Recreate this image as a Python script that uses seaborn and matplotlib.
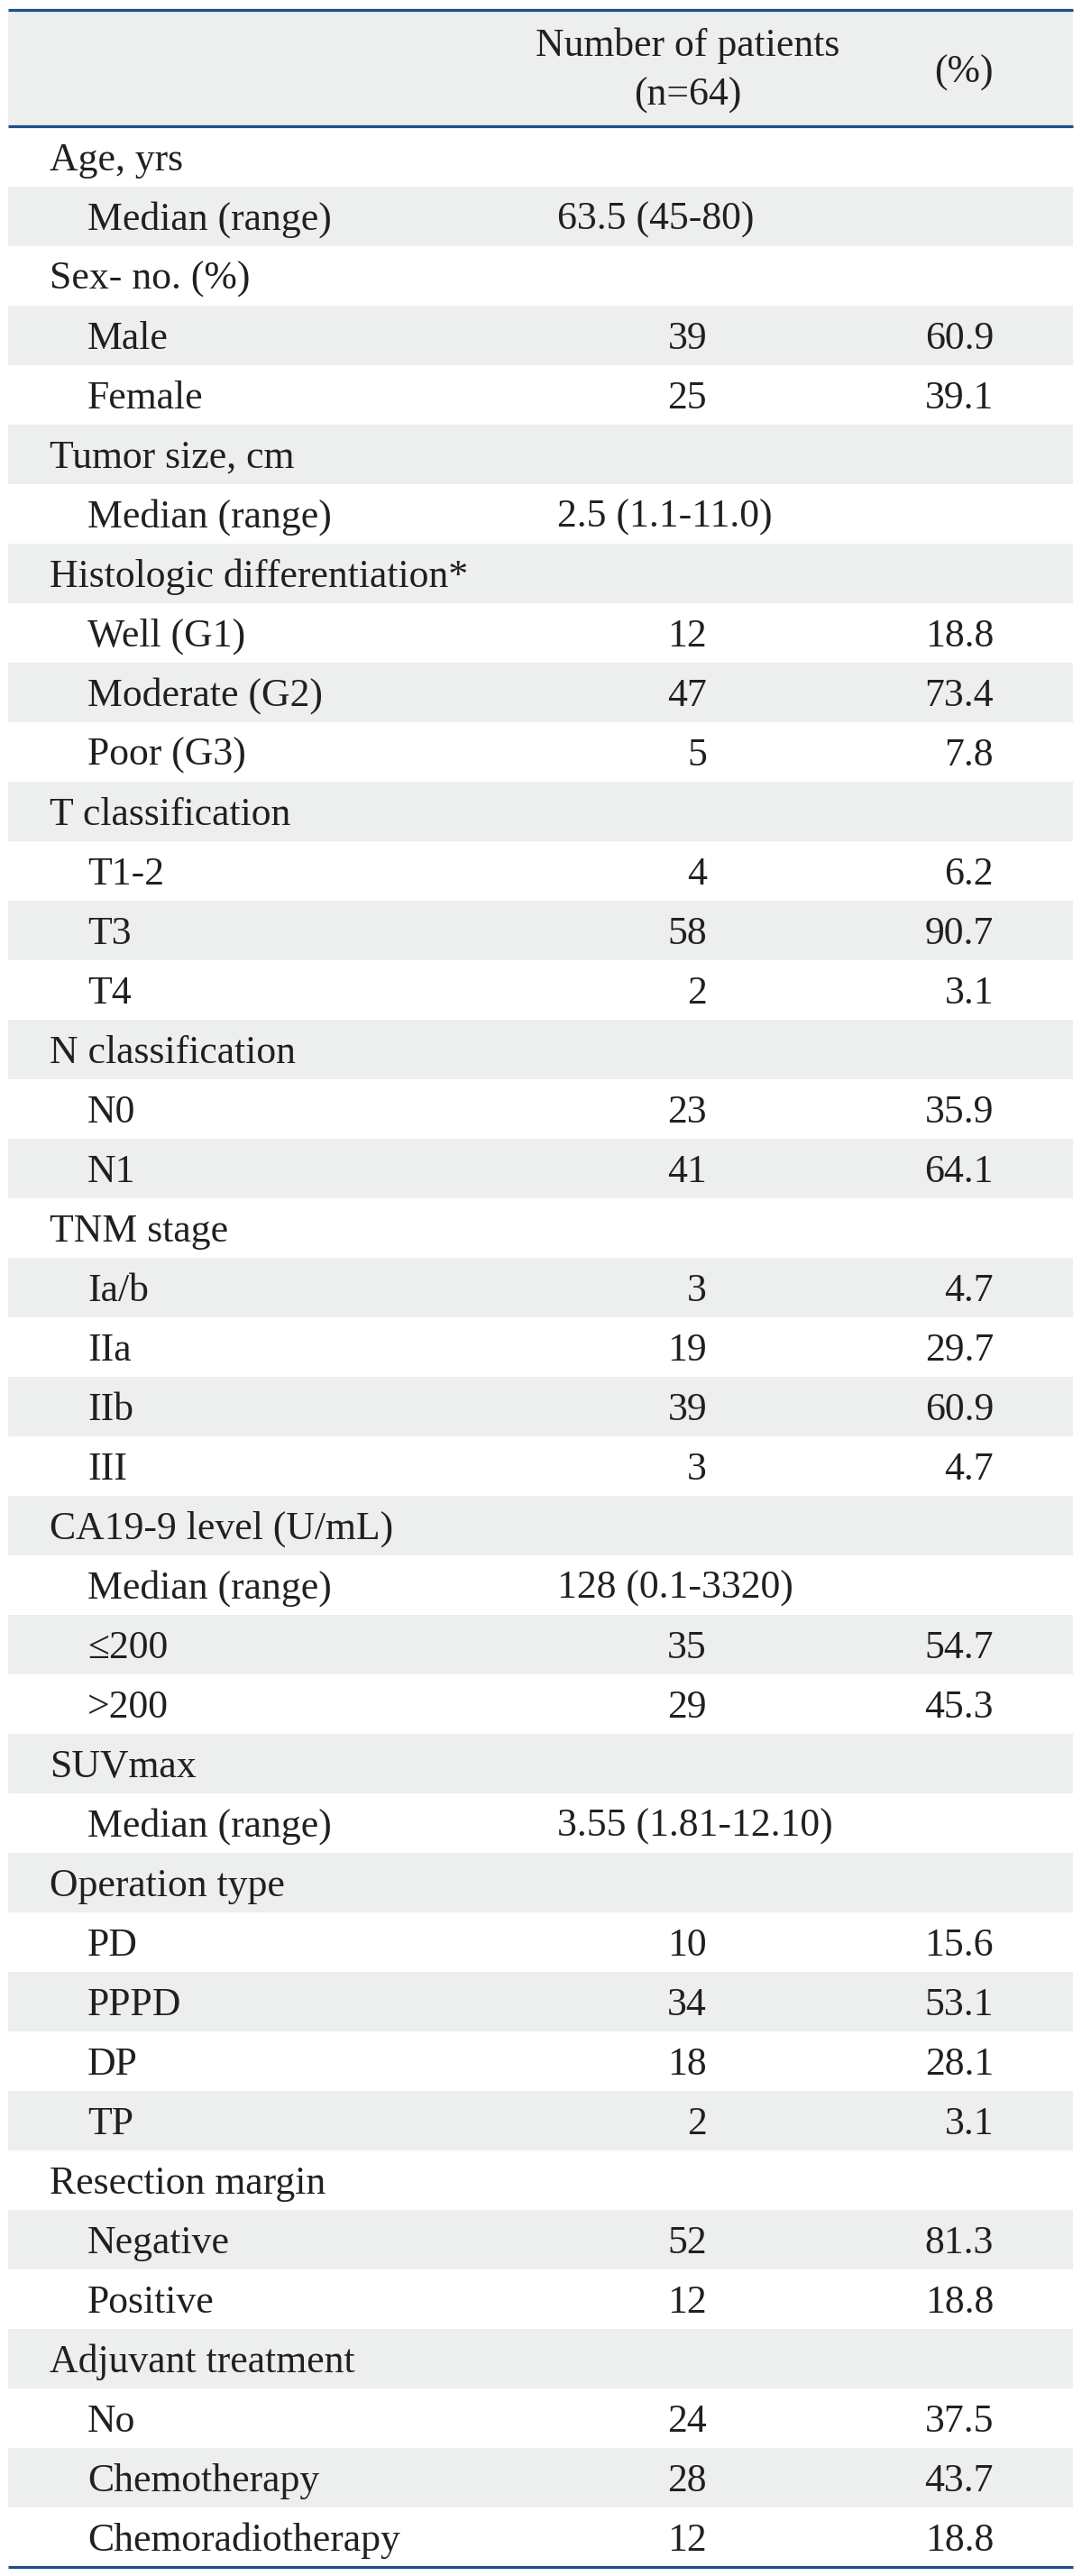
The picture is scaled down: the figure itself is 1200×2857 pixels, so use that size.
import matplotlib
matplotlib.use("Agg")
import matplotlib.pyplot as plt
import seaborn as sns

# ---------------- data ----------------
header_col1 = "Number of patients\n(n=64)"
header_col2 = "(%)"

row_labels = [
    "Age, yrs", "Median (range)",
    "Sex- no. (%)", "Male", "Female",
    "Tumor size, cm", "Median (range)",
    "Histologic differentiation*", "Well (G1)", "Moderate (G2)", "Poor (G3)",
    "T classification", "T1-2", "T3", "T4",
    "N classification", "N0", "N1",
    "TNM stage", "Ia/b", "IIa", "IIb", "III",
    "CA19-9 level (U/mL)", "Median (range)", "\u2264200", ">200",
    "SUVmax", "Median (range)",
    "Operation type", "PD", "PPPD", "DP", "TP",
    "Resection margin", "Negative", "Positive",
    "Adjuvant treatment", "No", "Chemotherapy", "Chemoradiotherapy",
]
row_is_group = [
    True, False,
    True, False, False,
    True, False,
    True, False, False, False,
    True, False, False, False,
    True, False, False,
    True, False, False, False, False,
    True, False, False, False,
    True, False,
    True, False, False, False, False,
    True, False, False,
    True, False, False, False,
]
patients_n = [
    "", "",
    "", "39", "25",
    "", "",
    "", "12", "47", "5",
    "", "4", "58", "2",
    "", "23", "41",
    "", "3", "19", "39", "3",
    "", "", "35", "29",
    "", "",
    "", "10", "34", "18", "2",
    "", "52", "12",
    "", "24", "28", "12",
]
percent = [
    "", "",
    "", "60.9", "39.1",
    "", "",
    "", "18.8", "73.4", "7.8",
    "", "6.2", "90.7", "3.1",
    "", "35.9", "64.1",
    "", "4.7", "29.7", "60.9", "4.7",
    "", "", "54.7", "45.3",
    "", "",
    "", "15.6", "53.1", "28.1", "3.1",
    "", "81.3", "18.8",
    "", "37.5", "43.7", "18.8",
]
median_range = [
    "", "63.5 (45-80)",
    "", "", "",
    "", "2.5 (1.1-11.0)",
    "", "", "", "",
    "", "", "", "",
    "", "", "",
    "", "", "", "", "",
    "", "128 (0.1-3320)", "", "",
    "", "3.55 (1.81-12.10)",
    "", "", "", "", "",
    "", "", "",
    "", "", "", "",
]

# ---------------- style ----------------
sns.set_theme(style="white")
plt.rcParams["font.family"] = ["Liberation Serif", "DejaVu Serif"]

W, H = 1200, 2857
fig = plt.figure(figsize=(W / 100, H / 100), dpi=100)
ax = fig.add_axes([0, 0, 1, 1])
ax.set_xlim(0, W)
ax.set_ylim(H, 0)
ax.axis("off")

text_color = "#231F20"
shade = "#EDEEEE"
rule = "#1F4E8C"
fs = 31.5

left, right = 9, 1190
top_line, head_line = 11, 140
row_top0, row_h = 141, 66
nrows = len(row_labels)
bottom_line = row_top0 + nrows * row_h

# header shading
ax.fill_between([left, right], top_line, head_line, color=shade, lw=0, zorder=0)

# row shading
for i in range(nrows):
    if i % 2 == 1:
        y0 = row_top0 + i * row_h
        ax.fill_between([left, right], y0, y0 + row_h, color=shade, lw=0, zorder=0)

# rules
for y in (top_line, head_line, bottom_line):
    ax.hlines(y, left, right, color=rule, lw=2.3, zorder=3)

# header text
ax.text(763, 62, "Number of patients", ha="center", va="baseline",
        fontsize=fs, color=text_color)
ax.text(763, 117, "(n=64)", ha="center", va="baseline",
        fontsize=fs, color=text_color)
ax.text(1069, 92, header_col2, ha="center", va="baseline",
        fontsize=fs, color=text_color)

# body text
x_group, x_item = 55, 97
x_median, x_n, x_pct = 618, 784, 1102
for i in range(nrows):
    yb = row_top0 + i * row_h + 48
    x = x_group if row_is_group[i] else x_item
    ax.text(x, yb, row_labels[i], ha="left", va="baseline",
            fontsize=fs, color=text_color)
    if median_range[i]:
        ax.text(x_median, yb, median_range[i], ha="left", va="baseline",
                fontsize=fs, color=text_color)
    if patients_n[i]:
        ax.text(x_n, yb, patients_n[i], ha="right", va="baseline",
                fontsize=fs, color=text_color)
    if percent[i]:
        ax.text(x_pct, yb, percent[i], ha="right", va="baseline",
                fontsize=fs, color=text_color)

fig.savefig("out.png", dpi=100, facecolor="white")
